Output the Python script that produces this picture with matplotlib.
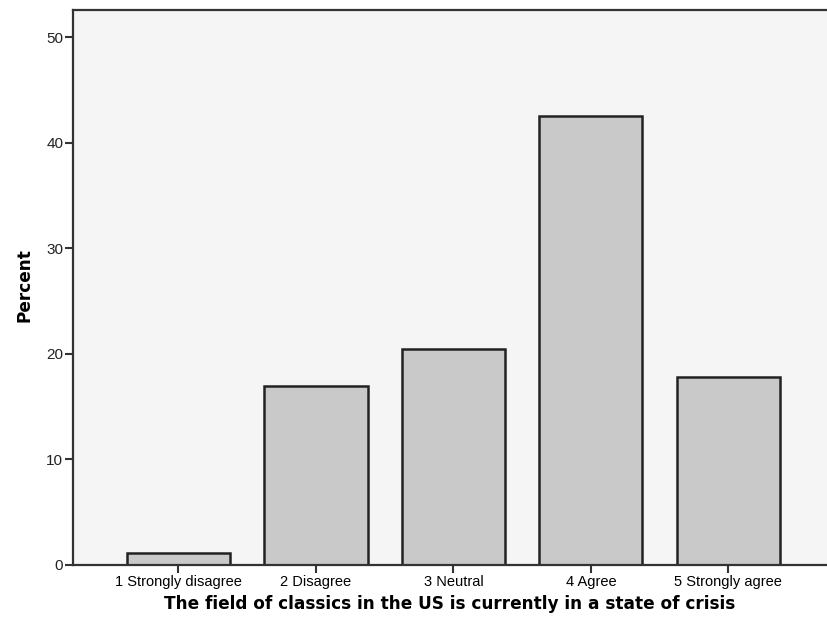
import matplotlib
matplotlib.use('Agg')
import matplotlib.pyplot as plt

categories = ['1 Strongly disagree', '2 Disagree', '3 Neutral', '4 Agree', '5 Strongly agree']
percent = [1.1, 17.0, 20.5, 42.6, 17.8]

fig = plt.figure(figsize=(8.27, 6.30), dpi=100)
ax = fig.add_axes([73 / 827, 1 - 565 / 630, 1 - 73 / 827, (565 - 10) / 630])
ax.set_facecolor('#f5f5f5')

x = list(range(len(categories)))
ax.bar(x, percent, width=0.75, color='#c9c9c9', edgecolor='#222222', linewidth=1.8, zorder=2)

ax.set_xlim(-0.767, 4.717)
ax.set_ylim(0, 52.6)
ax.set_yticks([0, 10, 20, 30, 40, 50])
ax.set_xticks(x)
ax.set_xticklabels(categories, fontfamily='Liberation Sans', fontsize=10.5)
for lab in ax.get_yticklabels():
    lab.set_fontfamily('Liberation Sans')
    lab.set_fontsize(11)
    lab.set_color('#222222')
ax.tick_params(axis='both', direction='out', length=6, width=1.5, color='#333333', pad=1)

for side in ['left', 'bottom', 'top']:
    ax.spines[side].set_linewidth(1.6)
    ax.spines[side].set_color('#333333')
ax.spines['right'].set_visible(False)

ax.set_ylabel('Percent', fontweight='bold', fontsize=12.2)
ax.yaxis.set_label_coords(-0.053, 0.505)
ax.set_xlabel('The field of classics in the US is currently in a state of crisis',
              fontweight='bold', fontsize=12.2)
ax.xaxis.set_label_coords(0.5, -0.054)

fig.savefig('out.png', dpi=100)
